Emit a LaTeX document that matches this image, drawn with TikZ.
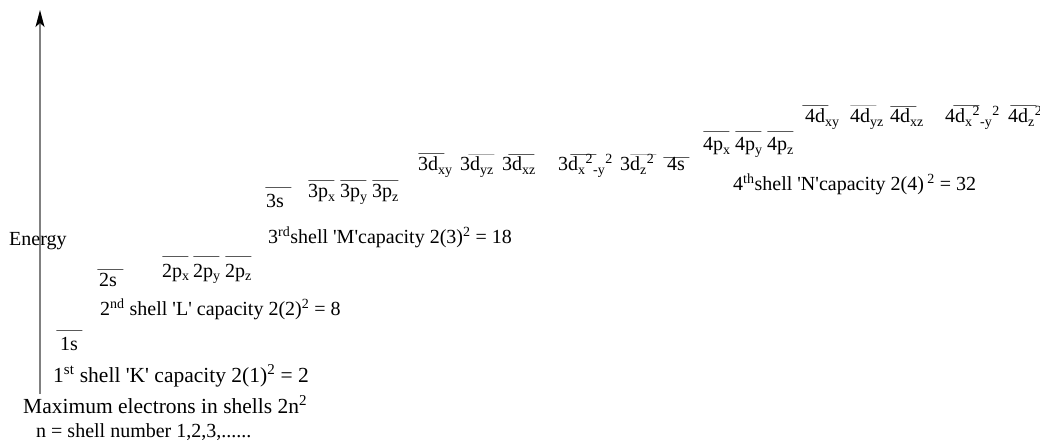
\documentclass[tikz,border=0pt]{standalone}
\usepackage{fontspec}
\setmainfont{Liberation Serif}
\usetikzlibrary{positioning, arrows.meta}
\newcommand{\sq}{\textquotesingle}

\begin{document}
\begin{tikzpicture}[
    x=1pt, y=-1pt,
    every node/.style={font=\fontsize{20}{24}\selectfont, inner sep=0pt},
    level/.style={draw, line width=0.9pt, minimum width=26pt, minimum height=0pt,
                  inner sep=0pt, anchor=west},
    faint/.style={draw=gray},
    orb/.style={anchor=base west},
    shelltext/.style={anchor=base west},
    bigtext/.style={anchor=base west, font=\fontsize{21.5}{25}\selectfont},
    axis/.style={draw=gray, line width=1.2pt, -{Stealth[color=black, length=17pt, width=9pt, inset=4pt]}}
]
    \useasboundingbox (0,0) rectangle (1040,443);

    % energy axis
    \coordinate (axisbot) at (40,394);
    \coordinate (axistop) at (40,10);
    \draw[axis] (axisbot) -- (axistop);
    \node[shelltext] (energy) at (9,246) {Energy};

    % orbital levels: name / line x / line y / label x / label baseline / text
    \foreach \n/\lx/\ly/\tx/\ty/\t in {
        1s/56/330/60/350/{1s},
        2s/97/269/99/287/{2s},
        2px/162/256/162/277/{2p\textsubscript{x}},
        2py/193/256/193/277/{2p\textsubscript{y}},
        2pz/225/256/225/277/{2p\textsubscript{z}},
        3s/265/187/266/208/{3s},
        3px/308/180/308/198/{3p\textsubscript{x}},
        3py/340/180/340/198/{3p\textsubscript{y}},
        3pz/372/180/372/198/{3p\textsubscript{z}},
        3dxy/418/153/418/171/{3d\textsubscript{xy}},
        3dxz/508/154/502/171/{3d\textsubscript{xz}},
        3dxy2/570/154/558/171/{3d\textsubscript{x}\textsuperscript{2}\textsubscript{-y}\textsuperscript{2}},
        4s/663/157/667/171/{4s},
        4px/703/131/703/151/{4p\textsubscript{x}},
        4py/735/131/735/151/{4p\textsubscript{y}},
        4pz/767/131/767/151/{4p\textsubscript{z}},
        4dxy/802/105/805/123/{4d\textsubscript{xy}},
        4dxz/890/106/890/123/{4d\textsubscript{xz}},
        4dxy2/953/105/945/123/{4d\textsubscript{x}\textsuperscript{2}\textsubscript{-y}\textsuperscript{2}},
        4dz2/1010/105/1008/123/{4d\textsubscript{z}\textsuperscript{2}}}
    {
        \node[level] (lv\n) at (\lx,\ly) {};
        \node[orb] (lb\n) at (\tx,\ty) {\t};
    }
    % the paler ones
    \foreach \n/\lx/\ly/\tx/\ty/\t in {
        3dyz/468/154/460/171/{3d\textsubscript{yz}},
        3dz2/630/154/620/171/{3d\textsubscript{z}\textsuperscript{2}},
        4dyz/850/105/850/123/{4d\textsubscript{yz}}}
    {
        \node[level, faint] (lv\n) at (\lx,\ly) {};
        \node[orb] (lb\n) at (\tx,\ty) {\t};
    }

    % shell captions
    \node[bigtext] (shellK) at (53,382) {1\textsuperscript{st} shell \sq K\sq{} capacity 2(1)\textsuperscript{2} = 2};
    \node[shelltext] (shellL) at (100,316) {2\textsuperscript{nd} shell \sq L\sq{} capacity 2(2)\textsuperscript{2} = 8};
    \node[shelltext] (shellM) at (268,244) {3\textsuperscript{rd}shell \sq M\sq capacity 2(3)\textsuperscript{2} = 18};
    \node[shelltext] (shellN) at (733,191) {4\textsuperscript{th}shell \sq N\sq capacity 2(4)\,\textsuperscript{2} = 32};
    \node[bigtext] (maxel) at (23,413) {Maximum electrons in shells 2n\textsuperscript{2}};
    \node[shelltext] (nnum) at (36,437) {n = shell number 1,2,3,......};
\end{tikzpicture}
\end{document}
